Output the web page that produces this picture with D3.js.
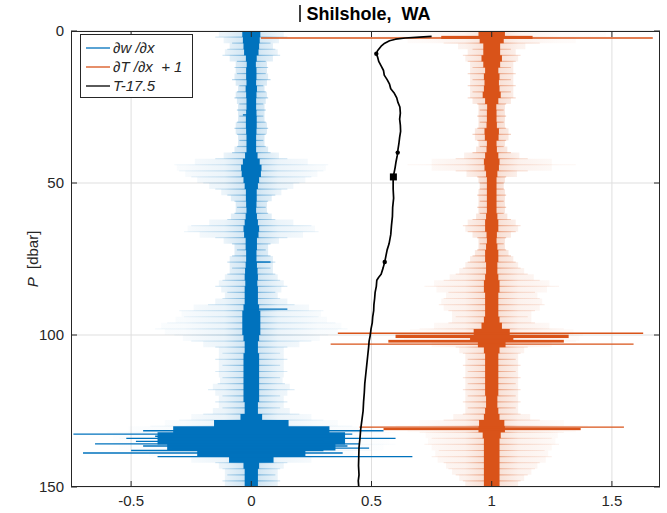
<!DOCTYPE html>
<html>
<head>
<meta charset="utf-8">
<script src="https://cdn.jsdelivr.net/npm/d3@7"></script>
<style>
  body { margin: 0; background: #fff; }
  svg { display: block; font-family: "Liberation Sans", Arial, sans-serif; }
</style>
</head>
<body>
<svg id="chart" width="667" height="513"></svg>
<script>
// ---------------- DATA ----------------
const titleText = "Shilshole,  WA";
const xTicks = [-0.5, 0, 0.5, 1, 1.5];
const xTickLabels = ["-0.5", "0", "0.5", "1", "1.5"];
const yTicks = [0, 50, 100, 150];
const xDomain = [-0.75, 1.7];
const yDomain = [0, 150];

// pressure grid (dbar) for the envelopes
const pGrid = d3.range(0, 151, 2);

// dw/dx : centre 0 — half-width of the dense core and of the faint envelope
const blueCore = [0.035,0.04,0.03,0.035,0.025,0.02,0.018,0.025,0.018,0.022,0.025,0.018,0.022,0.018,0.025,0.02,0.025,0.018,0.022,0.018,
  0.022,0.03,0.04,0.045,0.035,0.03,0.025,0.02,0.025,0.018,0.022,0.025,0.03,0.035,0.025,0.022,0.025,0.018,0.025,0.022,
  0.03,0.025,0.025,0.03,0.025,0.03,0.035,0.04,0.035,0.04,0.035,0.03,0.025,0.03,0.035,0.03,0.035,0.03,0.035,0.03,
  0.035,0.03,0.025,0.03,0.06,0.25,0.4,0.38,0.4,0.3,0.15,0.035,0.03,0.025,0.03,0.025];
const blueWing = [0.12,0.15,0.08,0.1,0.12,0.06,0.07,0.06,0.08,0.05,0.06,0.07,0.05,0.06,0.05,0.06,0.07,0.06,0.05,0.06,
  0.08,0.15,0.32,0.3,0.25,0.2,0.15,0.1,0.07,0.06,0.07,0.1,0.25,0.28,0.15,0.08,0.06,0.08,0.1,0.08,
  0.1,0.12,0.15,0.1,0.12,0.18,0.3,0.28,0.35,0.4,0.32,0.25,0.15,0.12,0.15,0.12,0.15,0.12,0.14,0.18,
  0.12,0.15,0.12,0.2,0.3,0.42,0.6,0.55,0.6,0.5,0.35,0.15,0.12,0.1,0.12,0.1];
// isolated strong excursions: [P, from, to]
const blueSpikes = [[27.6,-0.035,0.02],[76,0,0.08],[91.5,-0.02,0.15],[131.5,-0.45,0.55],[132.6,-0.74,0.42],
  [133.3,-0.4,0.35],[134,-0.52,0.6],[135,-0.48,0.3],[135.8,-0.65,0.45],[136.5,-0.45,0.4],[137.2,-0.33,0.49],
  [138,-0.5,0.3],[138.8,-0.70,0.38],[140,-0.39,0.67]];

// dT/dx + 1 : centre 1
const orangeCore = [0.05,0.06,0.04,0.03,0.04,0.045,0.025,0.03,0.035,0.025,0.04,0.035,0.02,0.018,0.022,0.018,0.025,0.035,0.022,0.018,
  0.025,0.03,0.035,0.025,0.022,0.018,0.022,0.018,0.022,0.018,0.022,0.025,0.03,0.025,0.018,0.022,0.025,0.03,0.025,0.022,
  0.025,0.03,0.035,0.03,0.025,0.03,0.025,0.03,0.035,0.05,0.1,0.08,0.035,0.03,0.025,0.03,0.025,0.03,0.025,0.03,
  0.025,0.022,0.025,0.03,0.035,0.07,0.04,0.035,0.03,0.035,0.03,0.035,0.03,0.035,0.03,0.035];
const orangeWing = [0.45,0.5,0.2,0.08,0.12,0.1,0.08,0.1,0.08,0.1,0.08,0.1,0.06,0.05,0.06,0.05,0.06,0.08,0.06,0.05,
  0.08,0.15,0.35,0.15,0.06,0.05,0.05,0.06,0.05,0.06,0.05,0.08,0.12,0.1,0.06,0.05,0.06,0.08,0.1,0.12,
  0.15,0.2,0.28,0.18,0.2,0.22,0.18,0.15,0.18,0.3,0.38,0.35,0.15,0.12,0.1,0.12,0.1,0.12,0.1,0.12,
  0.1,0.12,0.1,0.12,0.2,0.4,0.3,0.25,0.28,0.22,0.25,0.2,0.18,0.15,0.12,0.1];
const orangeSpikes = [[2.3,0.04,1.67],[99.4,0.36,1.63],[103,0.33,1.59],[130.3,0.45,1.55]];
// thick bursts: [Ptop, Pbottom, from, to]
const orangeBursts = [[1.6,2.6,0.79,1.17],[99.9,101.0,0.6,1.32],[101.6,102.5,0.57,1.3],[130.6,131.3,0.55,1.37]];

// T - 17.5 profile: [P, value]
const tProfile = [[1.8,0.75],[2.0,0.70],[2.3,0.64],[2.7,0.60],[3.2,0.575],[4,0.555],[5,0.54],[6.5,0.525],[7.5,0.52],[8.5,0.525],
  [10,0.53],[11.5,0.54],[13,0.55],[14.5,0.553],[16,0.565],[17.5,0.575],[19,0.58],[20.5,0.595],[22,0.605],[23.5,0.61],
  [25,0.618],[27,0.62],[29,0.617],[31,0.62],[33,0.621],[35,0.617],[37,0.614],[39,0.61],[41,0.607],[43,0.602],
  [45,0.598],[47,0.593],[49,0.59],[52,0.59],[55,0.592],[58,0.588],[61,0.587],[64,0.583],[67,0.58],[70,0.573],
  [72,0.565],[74,0.56],[76,0.555],[78,0.548],[80,0.54],[81,0.53],[82,0.522],[84,0.52],[86,0.515],[88,0.513],
  [90,0.51],[92,0.509],[94,0.505],[96,0.503],[98,0.498],[100,0.495],[102,0.49],[104,0.488],[107,0.484],[110,0.48],
  [113,0.476],[116,0.472],[119,0.47],[122,0.467],[125,0.465],[128,0.46],[131,0.455],[134,0.452],[137,0.448],[140,0.447],
  [143,0.446],[146,0.448],[148,0.445],[150,0.447]];
const tDots = [[7.5,0.52],[40,0.609],[76,0.555]];
const tSquares = [[48,0.591]];

const legendLabels = ["\u2202w /\u2202x", "\u2202T /\u2202x  + 1", "T-17.5"];

// ---------------- DRAW ----------------
const BLUE = "#0072BD", ORANGE = "#D95319", AXIS = "#262626";
const L = 71, R = 660, T = 31, B = 487;
const x = d3.scaleLinear().domain(xDomain).range([L, R]);
const y = d3.scaleLinear().domain(yDomain).range([T, B]);

const svg = d3.select("#chart");
const defs = svg.append("defs");
defs.append("clipPath").attr("id", "clip").append("rect")
  .attr("x", L).attr("y", T).attr("width", R - L).attr("height", B - T);

function grad(id, color, centre, k) {
  const g = defs.append("linearGradient").attr("id", id)
    .attr("gradientUnits", "userSpaceOnUse")
    .attr("x1", x(centre - 0.7)).attr("x2", x(centre + 0.7)).attr("y1", 0).attr("y2", 0);
  [[0, 0.0], [0.3, 0.05], [0.42, 0.14], [0.47, 0.3], [0.5, 0.45], [0.53, 0.3], [0.58, 0.14], [0.7, 0.05], [1, 0.0]].forEach(s =>
    g.append("stop").attr("offset", s[0]).attr("stop-color", color).attr("stop-opacity", s[1] * k));
}
grad("gBlueA", BLUE, 0, 0.55);
grad("gBlueS", BLUE, 0, 1.2);
grad("gOrangeA", ORANGE, 1, 0.55);
grad("gOrangeS", ORANGE, 1, 1.2);

// grid
const grid = svg.append("g");
xTicks.forEach(t => grid.append("line").attr("x1", x(t)).attr("x2", x(t)).attr("y1", T).attr("y2", B)
  .attr("stroke", "#dfdfdf").attr("stroke-width", 1));
yTicks.forEach(t => grid.append("line").attr("x1", L).attr("x2", R).attr("y1", y(t)).attr("y2", y(t))
  .attr("stroke", "#dfdfdf").attr("stroke-width", 1));

const plot = svg.append("g").attr("clip-path", "url(#clip)");

function trace(centre, core, wing, spikes, bursts, color, gA, gS) {
  const g = plot.append("g");
  const rows = pGrid.map((p, i) => ({ p, c: core[i], w: wing[i] }));
  const wingArea = d3.area().curve(d3.curveStep)
    .y(d => y(d.p)).x0(d => x(centre - d.w)).x1(d => x(centre + d.w));
  g.append("path").datum(rows).attr("d", wingArea).attr("fill", `url(#${gA})`);
  g.selectAll("line.streak").data(rows).join("line")
    .attr("x1", d => x(centre - d.w)).attr("x2", d => x(centre + d.w))
    .attr("y1", d => y(d.p)).attr("y2", d => y(d.p))
    .attr("stroke", `url(#${gS})`).attr("stroke-width", 1.2);
  const coreArea = d3.area().curve(d3.curveStep)
    .y(d => y(d.p)).x0(d => x(centre - d.c)).x1(d => x(centre + d.c));
  g.append("path").datum(rows).attr("d", coreArea).attr("fill", color);
  g.selectAll("rect.burst").data(bursts).join("rect")
    .attr("x", d => x(d[2])).attr("width", d => x(d[3]) - x(d[2]))
    .attr("y", d => y(d[0])).attr("height", d => y(d[1]) - y(d[0]))
    .attr("fill", color);
  g.selectAll("line.spike").data(spikes).join("line")
    .attr("x1", d => x(d[1])).attr("x2", d => x(d[2]))
    .attr("y1", d => y(d[0])).attr("y2", d => y(d[0]))
    .attr("stroke", color).attr("stroke-width", 1.4);
}
trace(0, blueCore, blueWing, blueSpikes, [], BLUE, "gBlueA", "gBlueS");
trace(1, orangeCore, orangeWing, orangeSpikes, orangeBursts, ORANGE, "gOrangeA", "gOrangeS");

// T profile
const tLine = d3.line().x(d => x(d[1])).y(d => y(d[0]));
plot.append("path").datum(tProfile).attr("d", tLine)
  .attr("fill", "none").attr("stroke", "#000").attr("stroke-width", 1.7).attr("stroke-linejoin", "round");
plot.selectAll("circle.td").data(tDots).join("circle")
  .attr("cx", d => x(d[1])).attr("cy", d => y(d[0])).attr("r", 2.2).attr("fill", "#000");
plot.selectAll("rect.ts").data(tSquares).join("rect")
  .attr("x", d => x(d[1]) - 3.5).attr("y", d => y(d[0]) - 3.5).attr("width", 7).attr("height", 7).attr("fill", "#000");

// axes box + ticks
const ax = svg.append("g").attr("stroke", AXIS).attr("stroke-width", 1).attr("fill", "none");
ax.append("rect").attr("x", L + 0.5).attr("y", T + 0.5).attr("width", R - L - 1).attr("height", B - T - 1);
xTicks.forEach(t => {
  ax.append("line").attr("x1", x(t)).attr("x2", x(t)).attr("y1", B).attr("y2", B - 6);
  ax.append("line").attr("x1", x(t)).attr("x2", x(t)).attr("y1", T).attr("y2", T + 6);
});
yTicks.forEach(t => {
  ax.append("line").attr("x1", L).attr("x2", L + 6).attr("y1", y(t)).attr("y2", y(t));
  ax.append("line").attr("x1", R).attr("x2", R - 6).attr("y1", y(t)).attr("y2", y(t));
});

const lab = svg.append("g").attr("fill", AXIS).attr("font-size", 15);
xTicks.forEach((t, i) => lab.append("text").attr("x", x(t)).attr("y", B + 19).attr("text-anchor", "middle")
  .text(xTickLabels[i]));
yTicks.forEach(t => lab.append("text").attr("x", L - 7).attr("y", y(t) + 5).attr("text-anchor", "end")
  .text(t));

// y label
const yl = svg.append("text").attr("transform", `translate(38,${(T + B) / 2}) rotate(-90)`)
  .attr("text-anchor", "middle").attr("font-size", 15).attr("fill", AXIS).style("white-space", "pre");
yl.append("tspan").attr("font-style", "italic").text("P");
yl.append("tspan").text("  [dbar]");

// title
svg.append("text").attr("x", (L + R) / 2 + 3).attr("y", 20).attr("text-anchor", "middle")
  .attr("font-size", 18).attr("font-weight", "bold").attr("fill", "#000")
  .style("white-space", "pre").text(titleText);
svg.append("line").attr("x1", 300).attr("x2", 300).attr("y1", 5).attr("y2", 22)
  .attr("stroke", "#000").attr("stroke-width", 1.5);

// legend
const lg = svg.append("g");
lg.append("rect").attr("x", 80.5).attr("y", 34.5).attr("width", 112).attr("height", 63)
  .attr("fill", "#fff").attr("stroke", AXIS).attr("stroke-width", 1);
const legColors = [BLUE, ORANGE, "#000"];
legendLabels.forEach((t, i) => {
  const yy = 48 + i * 19;
  lg.append("line").attr("x1", 86).attr("x2", 110).attr("y1", yy).attr("y2", yy)
    .attr("stroke", legColors[i]).attr("stroke-width", 1.3);
  lg.append("text").attr("x", 113).attr("y", yy + 5).attr("font-size", 15).attr("font-style", "italic")
    .attr("fill", AXIS).style("white-space", "pre").text(t);
});
</script>
</body>
</html>
